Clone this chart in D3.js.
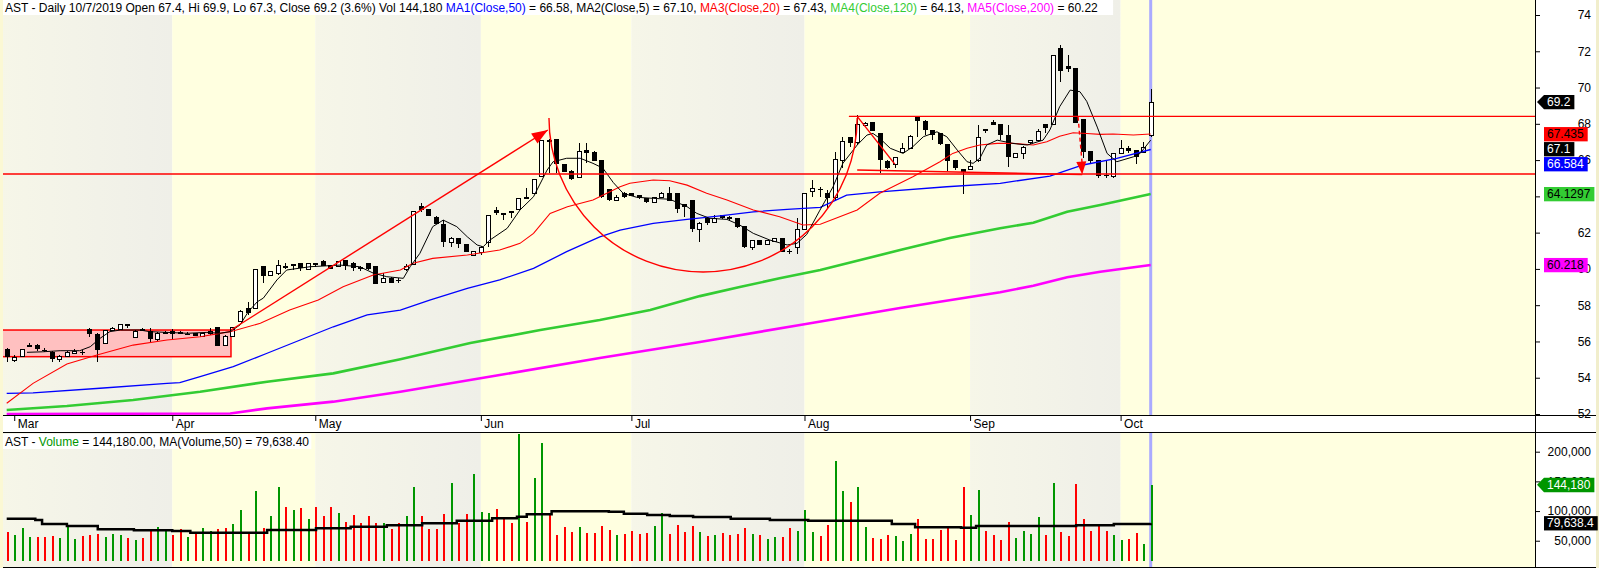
<!DOCTYPE html>
<html>
<head>
<meta charset="utf-8">
<script src="https://cdn.jsdelivr.net/npm/d3@7/dist/d3.min.js"></script>
<style>
  body { margin: 0; background: #fff; }
  svg { display: block; font-family: "Liberation Sans", Arial, sans-serif; font-size: 12px; }
</style>
</head>
<body>
<svg id="chart" width="1599" height="568"></svg>
<script>
// ---------- values ----------
var monthNames = ['Mar', 'Apr', 'May', 'Jun', 'Jul', 'Aug', 'Sep', 'Oct'];
var monthStart = [1, 22, 41, 63, 83, 106, 128, 148];   // bar index of first session in month

var opens = [55.58,54.98,55.20,55.75,55.80,55.55,55.43,55.02,55.20,55.38,55.44,56.69,56.41,55.90,56.63,56.69,56.94,56.26,56.66,56.59,
  56.13,56.52,56.58,56.50,56.42,56.45,56.30,56.45,56.78,55.80,56.30,57.14,57.83,57.85,60.16,59.66,59.75,60.14,60.22,60.30,
  60.00,60.30,60.45,60.20,60.16,60.47,60.34,60.12,60.30,60.16,59.29,59.51,59.40,59.97,60.27,63.47,63.28,62.88,62.47,61.47,
  61.70,61.37,60.77,60.95,61.47,63.25,63.05,63.19,63.28,63.96,64.17,65.12,67.12,67.14,65.78,65.41,65.05,66.55,66.46,66.00,
  64.39,63.80,64.20,64.17,64.05,63.91,63.67,63.95,64.17,64.17,63.56,63.80,62.18,62.82,62.60,62.97,62.88,62.78,62.36,61.19,
  61.59,61.35,61.55,61.69,60.96,61.19,62.18,64.27,64.42,64.17,63.95,66.00,67.25,66.98,67.93,68.08,67.47,65.96,65.78,66.46,
  66.64,68.36,68.17,67.66,67.47,66.88,66.00,65.49,65.51,66.00,67.70,68.11,67.97,67.38,66.15,66.37,66.98,67.10,67.97,67.97,
  72.19,71.20,71.06,68.26,66.50,66.00,65.20,65.14,66.37,66.64,66.55,66.46,67.40];
var highs = [55.65,55.25,55.60,55.93,55.86,55.62,55.49,55.27,55.45,55.56,55.55,56.72,56.45,56.63,56.80,56.96,56.95,56.63,56.72,56.72,
  56.50,56.58,56.69,56.55,56.50,56.48,56.47,56.72,56.81,56.34,56.81,57.75,58.19,60.00,60.16,59.90,60.49,60.30,60.28,60.32,
  60.32,60.32,60.47,60.22,60.45,60.49,60.36,60.16,60.32,60.18,59.75,59.53,59.48,60.25,63.22,63.62,63.30,62.90,62.69,61.77,
  61.72,61.39,61.01,61.25,63.00,63.40,63.09,63.21,63.92,64.46,64.96,67.12,67.15,67.16,65.80,65.43,66.96,66.96,66.48,66.02,
  64.41,64.07,64.22,64.19,64.07,63.93,63.97,64.22,64.50,64.19,63.58,63.82,62.57,62.84,62.97,62.99,62.90,62.80,62.38,61.61,
  61.61,61.61,61.71,61.71,61.08,62.79,64.19,64.90,64.53,64.35,66.46,67.29,67.27,68.48,68.10,68.10,67.49,65.98,66.17,66.92,
  67.36,68.38,68.19,67.68,67.49,66.90,66.02,65.51,66.00,67.93,67.74,68.21,67.99,67.93,66.40,66.76,67.12,67.70,67.99,71.81,
  72.34,71.80,71.08,68.28,66.52,66.02,66.00,66.39,67.10,66.80,66.57,67.00,69.90];
var lows = [54.88,54.85,55.15,55.69,55.50,55.42,54.88,54.85,55.15,55.30,55.25,56.26,54.88,55.88,56.55,56.66,56.72,56.22,56.62,55.97,
  55.95,56.48,56.08,56.40,56.33,56.30,56.28,56.38,55.77,55.78,56.26,57.10,57.46,57.80,59.20,59.60,59.66,60.00,59.94,59.90,
  59.98,60.12,60.14,59.98,60.14,59.94,59.90,59.90,59.96,59.15,59.27,59.20,59.20,59.90,60.22,63.15,62.90,62.45,61.22,61.22,
  61.13,60.93,60.75,60.77,61.22,62.97,62.69,62.79,63.25,63.95,64.15,65.10,65.27,65.27,65.33,64.92,64.99,65.82,65.94,63.93,
  63.76,63.78,63.93,64.00,63.87,63.65,63.65,63.93,63.72,63.06,62.88,62.03,61.50,62.42,62.51,62.77,62.71,62.25,61.17,61.04,
  61.30,61.33,61.53,60.93,60.82,60.82,62.16,63.98,63.98,63.30,63.80,65.54,66.74,66.82,67.90,67.60,65.27,65.52,65.54,66.37,
  66.62,67.29,67.38,67.10,66.85,65.41,65.45,64.11,65.45,65.91,67.47,67.91,67.10,65.63,66.10,66.06,66.87,67.08,67.50,67.95,
  70.32,70.85,68.04,66.10,65.80,65.03,65.03,65.03,66.35,66.37,65.78,66.44,67.30];
var closes = [55.13,55.16,55.57,55.78,55.57,55.52,55.02,55.20,55.40,55.49,55.43,56.39,55.53,56.61,56.72,56.94,56.85,56.56,56.68,56.13,
  56.45,56.54,56.41,56.51,56.41,56.32,56.45,56.59,55.77,56.30,56.78,57.69,57.55,60.00,59.62,59.88,60.21,60.17,60.26,60.03,
  60.30,60.31,60.16,60.00,60.43,60.18,60.03,60.13,59.98,59.17,59.48,59.24,59.38,60.16,63.19,63.25,62.92,62.47,61.50,61.69,
  61.37,60.95,60.99,61.22,62.97,63.06,63.07,63.06,63.89,63.98,64.94,67.10,67.13,65.77,65.36,64.94,66.51,66.37,65.96,63.95,
  63.78,63.95,63.95,64.02,63.89,63.67,63.95,64.20,63.74,63.28,63.43,62.18,62.55,62.55,62.79,62.79,62.73,62.32,61.19,61.59,
  61.32,61.59,61.69,60.95,60.94,62.18,64.17,64.44,64.40,63.92,66.04,67.07,66.96,67.97,68.06,67.62,66.00,65.54,66.15,66.64,
  67.34,68.17,67.66,67.38,66.87,65.96,65.54,65.36,65.67,67.25,67.72,67.93,67.38,66.15,66.37,66.74,67.10,67.60,67.75,71.79,
  70.93,71.02,68.06,66.46,65.96,65.14,65.15,66.37,66.64,66.51,66.15,66.74,69.20];

var volumes = [65000,60000,72000,57000,57000,57000,58000,55000,76000,53000,58000,60000,61000,57000,61000,60000,55000,51000,55000,70000,
  73000,68000,60000,70000,57000,61000,72000,66000,70000,71000,78000,101000,65000,133000,72000,92000,141000,106000,101000,105000,
  86000,107000,91000,107000,97000,82000,93000,80000,91000,80000,80000,70000,80000,92000,141000,92000,70000,70000,95000,147000,
  80000,95000,163000,98000,97000,103000,90000,80000,230000,82000,156000,214000,96000,60000,73000,65000,73000,63000,63000,75000,
  68000,60000,61000,66000,61000,63000,75000,97000,61000,77000,65000,75000,65000,58000,60000,63000,60000,61000,72000,61000,
  60000,53000,56000,56000,72000,66000,102000,65000,58000,77000,184000,134000,115000,141000,73000,55000,53000,60000,58000,50000,
  61000,87000,53000,53000,68000,72000,51000,141000,93000,136000,66000,60000,51000,82000,55000,66000,61000,90000,60000,147000,
  65000,58000,146000,87000,66000,75000,66000,60000,51000,53000,63000,45000,144180];
// g = green (up) bar, r = red (down) bar, ten sessions per chunk
var volDir = ['rgggrrrggg', 'rrrgggrgrr', 'ggrrgrggrr', 'ggrgrggrgr', 'grrrgrrrrr', 'grrggrrrrg', 'rrgggrrrgr',
  'ggrrrrgrrr', 'rgrrrrggrr', 'rrgrgrrrrg', 'rggrrgggrr', 'ggrggrrrgg', 'grrrrrrrgg', 'rrrrggggrg',
  'rrrrrrrggr', 'rgg'].join('');

// moving averages: [bar index, value]
var ma5 = [[2.7,55.40],[4.8,55.43],[7.1,55.49],[9.7,55.49],[11.1,55.71],[12.4,56.17],[13.7,56.54],[15.1,56.63],[17.7,56.63],
  [19.0,56.54],[21.3,56.50],[24.0,56.45],[26.6,56.50],[28.3,56.45],[29.7,56.54],[31.0,56.91],[32.1,57.64],[33.3,58.19],[34.1,58.39],
  [35.9,59.39],[37.2,59.94],[40.3,60.12],[44.3,60.21],[46.9,60.12],[48.7,59.77],[50.5,59.57],[52.7,59.48],[53.6,60.12],[54.9,60.86],
  [56.6,62.33],[58.0,62.69],[59.8,62.33],[61.2,61.77],[62.5,61.32],[63.3,61.22],[64.2,61.59],[66.5,62.24],[68.2,63.25],[70.0,63.98],
  [71.8,65.45],[72.6,65.91],[74.4,66.10],[76.2,66.10],[77.9,65.82],[79.2,65.56],[80.6,64.76],[81.9,64.17],[83.7,63.95],[85.9,63.89],
  [88.1,63.84],[90.4,63.43],[91.7,63.06],[93.4,62.79],[95.7,62.73],[97.4,62.42],[99.2,61.96],[101.4,61.59],[103.7,61.32],[105.0,61.41],
  [106.3,61.90],[108.0,63.20],[109.8,64.53],[111.1,65.82],[113.0,66.83],[114.3,67.38],[115.1,67.47],[116.0,67.20],[117.4,66.65],
  [119.1,66.37],[120.4,66.74],[121.8,67.29],[123.6,67.56],[124.9,67.29],[126.3,66.55],[127.6,65.91],[128.4,65.82],[129.3,66.10],
  [130.2,66.83],[131.6,67.10],[133.7,66.92],[135.6,66.83],[137.7,67.10],[138.6,67.66],[139.9,68.94],[141.3,69.86],[142.6,69.77],
  [143.5,69.24],[144.9,67.82],[146.2,66.37],[147.5,65.91],[149.7,66.18],[150.6,66.37],[152,67.10]];
var ma20 = [[0,52.59],[3.5,53.69],[8.0,54.76],[12.0,55.25],[16.8,55.80],[21.3,56.08],[25.7,56.26],[29.7,56.54],[33.7,57.00],
  [37.6,57.73],[41.4,58.28],[44.7,59.02],[48.7,59.66],[52.3,59.94],[54.0,60.31],[56.6,60.58],[61.2,60.77],[65.5,61.04],[68.2,61.41],
  [70.0,61.96],[72.2,63.06],[74.5,63.43],[77.9,63.80],[81.5,64.53],[82.8,64.72],[85.9,64.90],[88.1,64.86],[90.4,64.62],[93.0,64.17],
  [95.7,63.80],[99.2,63.25],[102.7,62.88],[105.8,62.42],[108.1,62.46],[113.0,63.25],[116.0,64.17],[120.4,65.08],[124.0,65.91],
  [125.7,66.37],[127.6,66.65],[129.3,66.83],[131.6,66.92],[133.7,66.92],[136.4,66.83],[138.2,67.01],[139.9,67.32],[141.7,67.51],
  [143.5,67.47],[145.3,67.42],[147.0,67.44],[149.7,67.38],[152,67.435]];
var ma50 = [[0,53.14],[3.5,53.17],[12.4,53.42],[21.3,53.69],[23.0,53.73],[25.7,54.06],[30.1,54.61],[34.6,55.35],[39.0,56.08],
  [43.4,56.81],[47.9,57.46],[52.3,57.73],[56.2,58.28],[61.2,58.93],[65.5,59.39],[70.0,60.03],[74.4,60.95],[78.8,61.77],[81.5,62.14],
  [85.9,62.51],[90.4,62.73],[94.8,62.92],[99.2,63.15],[103.7,63.28],[108.1,63.39],[111.6,64.07],[116.0,64.25],[124.9,64.53],
  [132.0,64.72],[138.6,65.12],[143.0,65.73],[147.5,66.10],[152,66.584]];
var ma120 = [[0,52.22],[8.0,52.44],[16.8,52.77],[25.7,53.23],[34.6,53.78],[43.4,54.24],[52.3,55.02],[61.6,55.91],[70.9,56.63],
  [78.8,57.18],[85.5,57.73],[92.1,58.50],[97.4,59.00],[102.7,59.48],[108.1,59.94],[118.7,61.04],[125.3,61.70],[132.0,62.24],
  [136.4,62.55],[140.9,63.15],[145.3,63.52],[152,64.1297]];
var ma200 = [[0,52.00],[29.7,52.03],[34.6,52.31],[43.4,52.68],[52.3,53.23],[65.5,54.15],[78.8,55.09],[92.1,55.97],[105.4,56.91],
  [118.7,57.84],[132.0,58.71],[136.4,59.07],[140.9,59.54],[145.3,59.84],[152,60.218]];
var volMa = [[0,87100],[3.8,84900],[4.7,78200],[8.0,74800],[12.1,69300],[16.9,67600],[22.0,66400],[24.4,63500],[29.9,63500],
  [34.6,68100],[41.1,71000],[45.7,73700],[50.5,76000],[55.2,79400],[59.8,83800],[64.5,87800],[67.8,90500],[69.1,94600],
  [72.4,99600],[80.0,98900],[82.0,95600],[85.1,93400],[88.1,91700],[91.2,90000],[96.2,87100],[101.4,84900],[106.5,83800],
  [113.5,83800],[117.6,78200],[120.7,72600],[126.8,72000],[128.8,74800],[142.1,76000],[147.1,78200],[152,79638.4]];

var priceTicks = [52, 54, 56, 58, 60, 62, 64, 66, 68, 70, 72, 74];
var volTicks = [50000, 100000, 150000, 200000];

// drawn studies: [bar index, price]
var baseBox = [[-1, 56.63], [29.8, 55.16]];
var trendArrow = [[29.8, 56.63], [71.9, 67.66]];
var cupArc = [[72.05, 68.32], [113.0, 68.32], [59.83]];   // left, right, bottom price
var cupSlide = [[113.0, 68.41], [118.0, 65.78]];
var resistance = [[111.9, 68.41]];
var support = 65.23;
var supportSlope = [[113.0, 65.45], [142.9, 65.2]];
var dropArrow = [[142.35, 68.39], [142.9, 65.2]];

// ---------- layout ----------
var svg = d3.select('#chart');
var plotRight = 1535, priceBottom = 415, volTop = 432, volBarBottom = 561, volBottom = 567;
var YELLOW = '#ffffe0', GREEN_VOL = '#009600', MA_GREEN = '#33cc33';

var x = d3.scaleLinear().domain([0, closes.length - 1]).range([6.7, 1150.7]);
var y = d3.scaleLinear().domain([52, 74]).range([414, 15]);
var yv = d3.scaleLinear().domain([0, 200000]).range([570.4, 451.7]);
var px = function(i) { return Math.round(x(i)); };

var defs = svg.append('defs');
var grad = defs.append('linearGradient').attr('id', 'greyBand').attr('x1', 0).attr('x2', 1).attr('y1', 0).attr('y2', 0);
grad.append('stop').attr('offset', 0).attr('stop-color', '#f6f6e8');
grad.append('stop').attr('offset', 1).attr('stop-color', '#efefe8');
defs.append('clipPath').attr('id', 'clipPrice').append('rect').attr('x', 0).attr('y', 0).attr('width', plotRight).attr('height', priceBottom);
defs.append('clipPath').attr('id', 'clipVol').append('rect').attr('x', 0).attr('y', volTop).attr('width', plotRight).attr('height', volBarBottom - volTop);

svg.append('rect').attr('width', 1599).attr('height', 568).attr('fill', '#fff');

// month bands in both panels
var drawBands = function(y0, y1) {
  for (var m = 0; m < monthStart.length; m++) {
    var left = m === 0 ? 0 : x(monthStart[m]);
    var right = m + 1 < monthStart.length ? x(monthStart[m + 1]) : plotRight;
    svg.append('rect').attr('x', left).attr('y', y0).attr('width', right - left).attr('height', y1 - y0)
      .attr('fill', m % 2 === 0 ? 'url(#greyBand)' : YELLOW);
  }
};
drawBands(0, priceBottom);
drawBands(volTop, volBottom);

// cursor line on the last bar
var lastX = x(closes.length - 1);
svg.append('line').attr('x1', lastX).attr('x2', lastX).attr('y1', 0).attr('y2', priceBottom).attr('stroke', '#aaaaff').attr('stroke-width', 3);
svg.append('line').attr('x1', lastX).attr('x2', lastX).attr('y1', volTop).attr('y2', volBottom).attr('stroke', '#aaaaff').attr('stroke-width', 3);

var gPrice = svg.append('g').attr('clip-path', 'url(#clipPrice)');

// base box
gPrice.append('rect')
  .attr('x', x(baseBox[0][0])).attr('y', y(baseBox[0][1]))
  .attr('width', x(baseBox[1][0]) - x(baseBox[0][0])).attr('height', y(baseBox[1][1]) - y(baseBox[0][1]))
  .attr('fill', '#ffc0c0').attr('stroke', '#ff0000').attr('stroke-width', 1.5);

// candles
var idx = d3.range(closes.length);
var candle = gPrice.selectAll('g.candle').data(idx).enter().append('g').attr('shape-rendering', 'crispEdges');
candle.append('line')
  .attr('x1', function(i) { return px(i) + 0.5; }).attr('x2', function(i) { return px(i) + 0.5; })
  .attr('y1', function(i) { return y(highs[i]); }).attr('y2', function(i) { return y(lows[i]); })
  .attr('stroke', '#000');
candle.append('rect')
  .attr('x', function(i) { return closes[i] >= opens[i] ? px(i) - 1.5 : px(i) - 2; })
  .attr('width', function(i) { return closes[i] >= opens[i] ? 4 : 5; })
  .attr('y', function(i) {
    var t = Math.round(y(Math.max(opens[i], closes[i])));
    return closes[i] >= opens[i] ? t + 0.5 : t;
  })
  .attr('height', function(i) {
    return Math.max(1, Math.round(y(Math.min(opens[i], closes[i]))) - Math.round(y(Math.max(opens[i], closes[i]))));
  })
  .attr('fill', function(i) { return closes[i] >= opens[i] ? '#fff' : '#000'; })
  .attr('stroke', function(i) { return closes[i] >= opens[i] ? '#000' : 'none'; });

// moving averages
var priceLine = d3.line().x(function(d) { return x(d[0]); }).y(function(d) { return y(d[1]); });
gPrice.append('path').datum(ma200).attr('d', priceLine).attr('fill', 'none').attr('stroke', '#ff00ff').attr('stroke-width', 2.6);
gPrice.append('path').datum(ma120).attr('d', priceLine).attr('fill', 'none').attr('stroke', MA_GREEN).attr('stroke-width', 2.6);
gPrice.append('path').datum(ma50).attr('d', priceLine).attr('fill', 'none').attr('stroke', '#0000ff').attr('stroke-width', 1.3);
gPrice.append('path').datum(ma20).attr('d', priceLine).attr('fill', 'none').attr('stroke', '#ff0000').attr('stroke-width', 1.1);
gPrice.append('path').datum(ma5).attr('d', priceLine).attr('fill', 'none').attr('stroke', '#000').attr('stroke-width', 1);

// drawn studies
var red = function(sel) { return sel.attr('stroke', '#ff0000').attr('stroke-width', 1.4).attr('fill', 'none'); };
var arrowHead = function(x1, y1, x2, y2, len, half) {
  var a = Math.atan2(y2 - y1, x2 - x1);
  var bx = x2 - len * Math.cos(a), by = y2 - len * Math.sin(a);
  var nx = -Math.sin(a) * half, ny = Math.cos(a) * half;
  return [[x2, y2], [bx + nx, by + ny], [bx - nx, by - ny]].join(' ');
};

red(gPrice.append('line')).attr('x1', 0).attr('x2', plotRight).attr('y1', y(support)).attr('y2', y(support));
red(gPrice.append('line')).attr('x1', x(resistance[0][0])).attr('x2', plotRight)
  .attr('y1', y(resistance[0][1])).attr('y2', y(resistance[0][1]));
red(gPrice.append('line')).attr('x1', x(supportSlope[0][0])).attr('x2', x(supportSlope[1][0]))
  .attr('y1', y(supportSlope[0][1])).attr('y2', y(supportSlope[1][1]));
red(gPrice.append('line')).attr('x1', x(cupSlide[0][0])).attr('x2', x(cupSlide[1][0]))
  .attr('y1', y(cupSlide[0][1])).attr('y2', y(cupSlide[1][1]));

var ax1 = x(cupArc[0][0]), ax2 = x(cupArc[1][0]), ayc = y(cupArc[0][1]);
red(gPrice.append('path')).attr('d', 'M' + ax1 + ',' + ayc + ' A' + ((ax2 - ax1) / 2) + ',' + (y(cupArc[2][0]) - ayc) + ' 0 0 0 ' + ax2 + ',' + ayc);

var t1x = x(trendArrow[0][0]), t1y = y(trendArrow[0][1]), t2x = x(trendArrow[1][0]), t2y = y(trendArrow[1][1]);
red(gPrice.append('line')).attr('x1', t1x).attr('y1', t1y).attr('x2', t2x).attr('y2', t2y);
gPrice.append('polygon').attr('points', arrowHead(t1x, t1y, t2x, t2y, 16, 6)).attr('fill', '#ff0000');

var d1x = x(dropArrow[0][0]), d1y = y(dropArrow[0][1]), d2x = x(dropArrow[1][0]), d2y = y(dropArrow[1][1]);
red(gPrice.append('line')).attr('x1', d1x).attr('y1', d1y).attr('x2', d2x).attr('y2', d2y - 10).attr('stroke-dasharray', '4,3');
gPrice.append('polygon').attr('points', arrowHead(d1x, d1y, d2x, d2y, 13, 5)).attr('fill', '#ff0000');

// volume panel
var gVol = svg.append('g').attr('clip-path', 'url(#clipVol)');
gVol.selectAll('rect.bar').data(idx).enter().append('rect')
  .attr('shape-rendering', 'crispEdges')
  .attr('x', function(i) { return px(i) - 0.5; }).attr('width', 2)
  .attr('y', function(i) { return yv(volumes[i]); })
  .attr('height', function(i) { return volBarBottom - yv(volumes[i]); })
  .attr('fill', function(i) { return volDir[i] === 'g' ? GREEN_VOL : '#ff0000'; });
var volLine = d3.line().x(function(d) { return x(d[0]); }).y(function(d) { return yv(d[1]); }).curve(d3.curveStepAfter);
gVol.append('path').datum(volMa).attr('d', volLine).attr('fill', 'none').attr('stroke', '#000').attr('stroke-width', 2.5);

// frame lines
var frame = svg.append('g').attr('stroke', '#000').attr('shape-rendering', 'crispEdges');
frame.append('line').attr('x1', 0).attr('x2', 1599).attr('y1', priceBottom).attr('y2', priceBottom);
frame.append('line').attr('x1', 0).attr('x2', 1599).attr('y1', volTop).attr('y2', volTop);
frame.append('line').attr('x1', 0).attr('x2', 1599).attr('y1', volBottom).attr('y2', volBottom);
frame.append('line').attr('x1', plotRight).attr('x2', plotRight).attr('y1', 0).attr('y2', 568);
svg.append('rect').attr('x', 0).attr('y', 0).attr('width', 3).attr('height', 568).attr('fill', '#fbf8d4');
svg.append('rect').attr('x', 1596).attr('y', 0).attr('width', 3).attr('height', 568).attr('fill', '#f1eecc');

// axes
var styleAxis = function(g) {
  g.select('.domain').remove();
  g.selectAll('line').attr('stroke', '#000');
  g.selectAll('text').attr('fill', '#000').attr('font-size', 12).attr('font-family', '"Liberation Sans", Arial, sans-serif');
};
var priceAxis = svg.append('g').attr('transform', 'translate(' + plotRight + ',0)')
  .call(d3.axisRight(y).tickValues(priceTicks).tickSize(5));
styleAxis(priceAxis);
priceAxis.selectAll('text').attr('x', 56).attr('text-anchor', 'end');

var volAxis = svg.append('g').attr('transform', 'translate(' + plotRight + ',0)')
  .call(d3.axisRight(yv).tickValues(volTicks).tickSize(5).tickFormat(d3.format(',')));
styleAxis(volAxis);
volAxis.selectAll('text').attr('x', 56).attr('text-anchor', 'end');

var timeAxis = svg.append('g').attr('transform', 'translate(0,' + priceBottom + ')')
  .call(d3.axisBottom(x).tickValues(monthStart).tickSize(6).tickFormat(function(d, i) { return monthNames[i]; }));
styleAxis(timeAxis);
timeAxis.selectAll('text').attr('x', 3).attr('y', 4).attr('text-anchor', 'start');

// value tags at the right
var tag = function(yc, label, fill, textFill, pointer) {
  var g = svg.append('g');
  var txt = g.append('text').attr('x', 1547).attr('y', yc).attr('dy', '0.36em').attr('fill', textFill).text(label);
  var w = txt.node().getComputedTextLength() + 7;
  var top = yc - 7, bot = yc + 7.3;
  if (pointer) {
    g.insert('polygon', 'text').attr('points', [[1537, yc], [1544, top], [1544 + w, top], [1544 + w, bot], [1544, bot]].join(' ')).attr('fill', fill);
  } else {
    g.insert('rect', 'text').attr('x', 1544).attr('y', top).attr('width', w).attr('height', bot - top).attr('fill', fill);
  }
};
tag(y(closes[closes.length - 1]), '69.2', '#000', '#fff', true);
var maTags = [
  { v: 67.435, label: '67.435', fill: '#ff0000', text: '#000' },
  { v: 67.1, label: '67.1', fill: '#000', text: '#fff' },
  { v: 66.584, label: '66.584', fill: '#0000ff', text: '#fff' },
  { v: 64.1297, label: '64.1297', fill: MA_GREEN, text: '#000' },
  { v: 60.218, label: '60.218', fill: '#ff00ff', text: '#000' }
];
var prevY = -100;
maTags.forEach(function(t) {
  var yc = Math.max(y(t.v), prevY + 15);
  prevY = yc;
  tag(yc, t.label, t.fill, t.text, false);
});
tag(yv(volumes[volumes.length - 1]), '144,180', GREEN_VOL, '#fff', true);
tag(yv(79638.4), '79,638.4', '#000', '#fff', false);

// titles
var title = function(yBase, parts, pad) {
  var bg = svg.append('rect').attr('fill', '#fff');
  var t = svg.append('text').attr('x', 5).attr('y', yBase).style('white-space', 'pre');
  parts.forEach(function(p) { t.append('tspan').attr('fill', p[1]).text(p[0]); });
  var bb = t.node().getBBox();
  bg.attr('x', 3).attr('y', yBase - 12).attr('width', bb.x + bb.width + pad - 3).attr('height', 15);
};
title(12, [
  ['AST - Daily 10/7/2019 Open 67.4, Hi 69.9, Lo 67.3, Close 69.2 (3.6%) Vol 144,180 ', '#000'],
  ['MA1(Close,50)', '#0000ff'], [' = 66.58, ', '#000'],
  ['MA2(Close,5)', '#000'], [' = 67.10, ', '#000'],
  ['MA3(Close,20)', '#ff0000'], [' = 67.43, ', '#000'],
  ['MA4(Close,120)', MA_GREEN], [' = 64.13, ', '#000'],
  ['MA5(Close,200)', '#ff00ff'], [' = 60.22', '#000']
], 15);
title(446, [
  ['AST - ', '#000'], ['Volume', GREEN_VOL], [' = 144,180.00, MA(Volume,50) = 79,638.40', '#000']
], 2);
</script>
</body>
</html>
